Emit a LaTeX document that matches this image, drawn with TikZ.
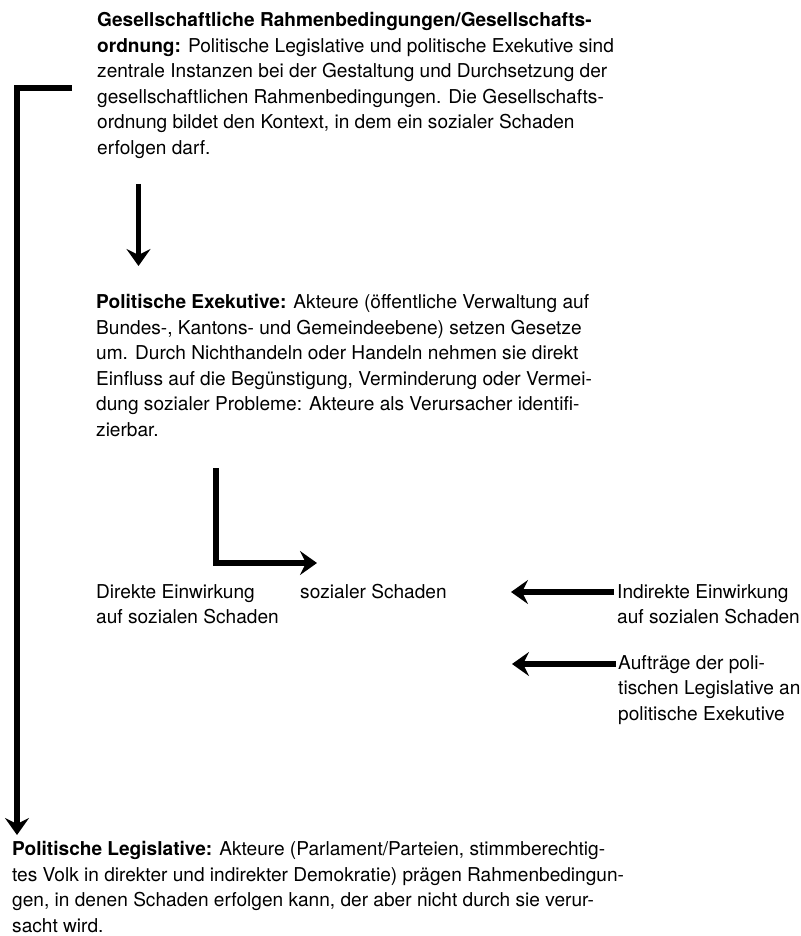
\documentclass[tikz,border=0pt]{standalone}
\usepackage{fontspec}
\setmainfont{TeX Gyre Heros}
\usetikzlibrary{arrows.meta}
\begin{document}
\begin{tikzpicture}[x=1pt,y=-1pt,
  txt/.style={anchor=north west,inner sep=0pt,align=left,font=\fontsize{19.1}{25.6}\selectfont},
  arr/.style={line width=5.5pt,-{Stealth[length=17pt,width=24pt,inset=6pt]}}]
\useasboundingbox (0,0) rectangle (800,936);
\node[txt] (b1) at (97,12) {\textbf{Gesellschaftliche Rahmenbedingungen/Gesellschafts-}\\
\textbf{ordnung:} Politische Legislative und politische Exekutive sind\\
zentrale Instanzen bei der Gestaltung und Durchsetzung der\\
gesellschaftlichen Rahmenbedingungen. Die Gesellschafts-\\
ordnung bildet den Kontext, in dem ein sozialer Schaden\\
erfolgen darf.};
\node[txt] (b2) at (96,294) {\textbf{Politische Exekutive:} Akteure (öffentliche Verwaltung auf\\
Bundes-, Kantons- und Gemeindeebene) setzen Gesetze\\
um. Durch Nichthandeln oder Handeln nehmen sie direkt\\
Einfluss auf die Begünstigung, Verminderung oder Vermei-\\
dung sozialer Probleme: Akteure als Verursacher identifi-\\
zierbar.};
\node[txt] (dir) at (96,584) {Direkte Einwirkung\\auf sozialen Schaden};
\node[txt] (soz) at (300,584) {sozialer Schaden};
\node[txt] (ind) at (617,584) {Indirekte Einwirkung\\auf sozialen Schaden};
\node[txt] (auf) at (618,655) {Aufträge der poli-\\tischen Legislative an\\politische Exekutive};
\node[txt] (b3) at (12,841) {\textbf{Politische Legislative:} Akteure (Parlament/Parteien, stimmberechtig-\\
tes Volk in direkter und indirekter Demokratie) prägen Rahmenbedingun-\\
gen, in denen Schaden erfolgen kann, der aber nicht durch sie verur-\\
sacht wird.};
% connectors
\coordinate (a1s) at (138.5,184);
\coordinate (a1e) at (138.5,266);
\draw[arr] (a1s) -- (a1e);
\coordinate (l1s) at (216,468);
\coordinate (l1e) at (317,563);
\draw[arr] (l1s) |- (l1e);
\coordinate (r1s) at (614,592);
\coordinate (r1e) at (511,592);
\draw[arr] (r1s) -- (r1e);
\coordinate (r2s) at (616,664);
\coordinate (r2e) at (512,664);
\draw[arr] (r2s) -- (r2e);
\coordinate (bls) at (72,88);
\coordinate (ble) at (17,835);
\draw[arr] (bls) -| (ble);
\end{tikzpicture}
\end{document}
